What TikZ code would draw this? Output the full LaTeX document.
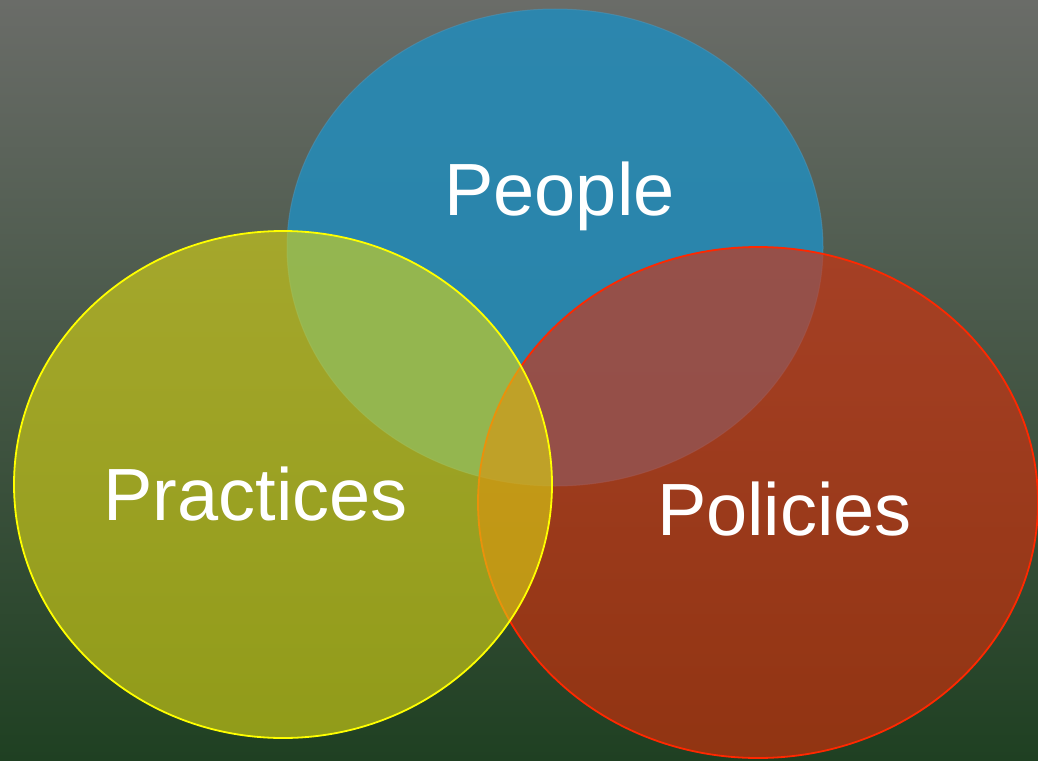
\documentclass[tikz,border=0pt]{standalone}
\usepackage{fontspec}
\setmainfont{Liberation Sans}
\usetikzlibrary{shapes.geometric}

\definecolor{bgtop}{RGB}{106,108,104}
\definecolor{bgbot}{RGB}{31,64,34}
\definecolor{pplfill}{RGB}{38,138,182}
\definecolor{pplline}{RGB}{80,150,185}
\definecolor{polfill}{RGB}{222,45,8}
\definecolor{polline}{RGB}{255,40,0}
\definecolor{pracfill}{RGB}{220,216,19}
\definecolor{pracline}{RGB}{255,255,0}

\begin{document}
\begin{tikzpicture} [
  x=1pt, y=-1pt,
  ppl/.style={
    ellipse, fill=pplfill, fill opacity=0.9, draw=pplline, draw opacity=0.5,
    line width=1pt, minimum width=536pt, minimum height=477pt
  },
  pol/.style={ellipse, fill=polfill, fill opacity=0.6, draw=polline, line width=1.8pt,
    minimum width=560pt, minimum height=511pt},
  prac/.style={
    ellipse, fill=pracfill, fill opacity=0.6, draw=pracline, line width=1.8pt,
    minimum width=538pt, minimum height=507pt},
  lbl/.style={text=white, anchor=base, inner sep=0pt, font=\fontsize{74}{80}\selectfont}
  ]
  \useasboundingbox (0,0) rectangle (1038,760);
  \shade[top color=bgtop, bottom color=bgbot] (0,0) rectangle (1038,760);
  \node(people)[ppl] at (555,247.5) {};
  \node(policies)[pol] at (758,502.5) {};
  \node(practices)[prac] at (283,484.5) {};
  \node(peoplelbl)[lbl] at (559.5,215) {People};
  \node(practiceslbl)[lbl] at (255.5,520) {Practices};
  \node(policieslbl)[lbl] at (784.5,535) {Policies};
\end{tikzpicture}
\end{document}
